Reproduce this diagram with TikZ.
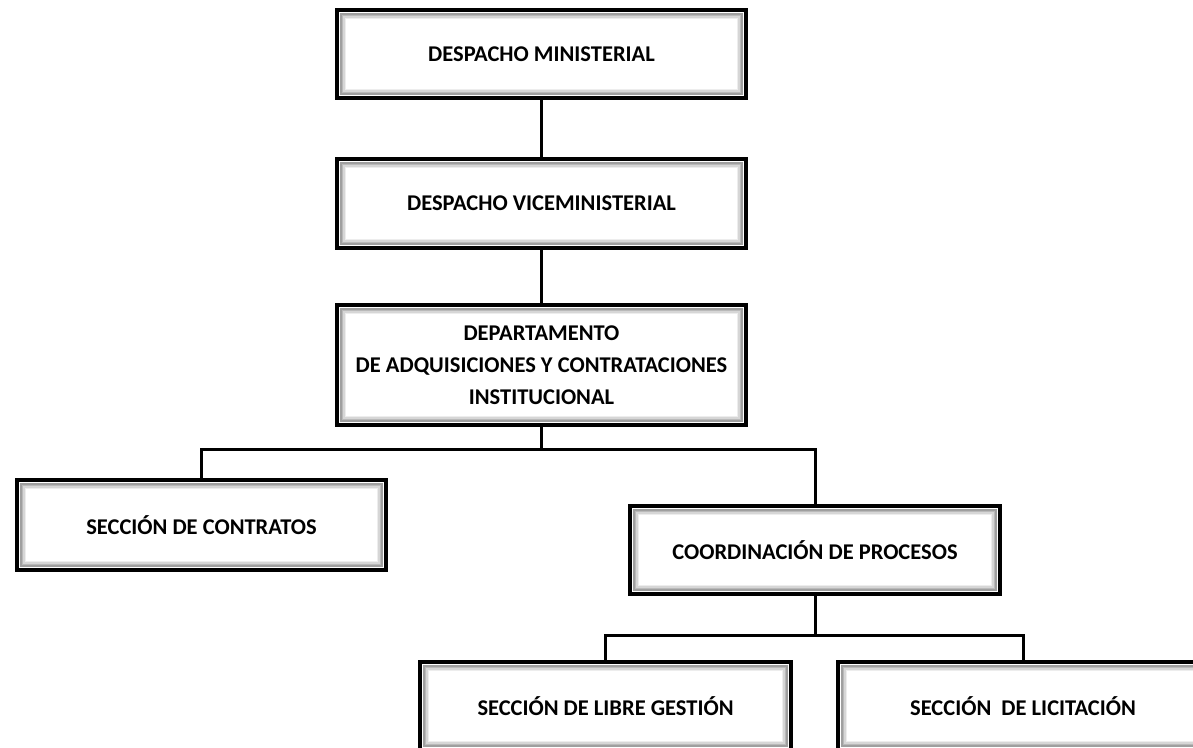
\documentclass[tikz,border=0pt]{standalone}
\usepackage{fontspec}
\setmainfont{Carlito}
\begin{document}
\begin{tikzpicture}[x=1pt,y=-1pt,
  orgbox/.style={draw=black, line width=4.4pt, fill=white, inner sep=0pt,
    font=\bfseries\fontsize{22.5}{32}\selectfont, align=center,
    path picture={
      \draw[gray!75, line width=1.6pt] ([shift={(3.9pt,3.9pt)}]path picture bounding box.south west) rectangle ([shift={(-3.9pt,-3.9pt)}]path picture bounding box.north east);
      \draw[gray!55, line width=1.6pt] ([shift={(5.4pt,5.4pt)}]path picture bounding box.south west) rectangle ([shift={(-5.4pt,-5.4pt)}]path picture bounding box.north east);
      \draw[gray!32, line width=1.6pt] ([shift={(6.9pt,6.9pt)}]path picture bounding box.south west) rectangle ([shift={(-6.9pt,-6.9pt)}]path picture bounding box.north east);
      \draw[gray!14, line width=1.4pt] ([shift={(8.3pt,8.3pt)}]path picture bounding box.south west) rectangle ([shift={(-8.3pt,-8.3pt)}]path picture bounding box.north east);
    }},
  conn/.style={draw=black, line width=3pt}]
\useasboundingbox (0,0) rectangle (1193,747);
\clip (0,0) rectangle (1193,747);

\coordinate (j1) at (541.5,449);
\coordinate (j2) at (815,635);

\node[orgbox, minimum width=408.5pt, minimum height=87.5pt] (b1) at (541.5,54) {DESPACHO MINISTERIAL};
\node[orgbox, minimum width=408.5pt, minimum height=88.5pt] (b2) at (541.5,203.5) {DESPACHO VICEMINISTERIAL};
\node[orgbox, minimum width=408.5pt, minimum height=119.5pt] (b3) at (541.5,365) {DEPARTAMENTO\\DE ADQUISICIONES Y CONTRATACIONES\\INSTITUCIONAL};
\node[orgbox, minimum width=368.5pt, minimum height=89.5pt] (b4) at (201.5,525) {SECCIÓN DE CONTRATOS};
\node[orgbox, minimum width=369.5pt, minimum height=87.5pt] (b5) at (815,550) {COORDINACIÓN DE PROCESOS};
\node[orgbox, minimum width=370.5pt, minimum height=87.5pt] (b6) at (605.5,706) {SECCIÓN DE LIBRE GESTIÓN};
\node[orgbox, minimum width=369.5pt, minimum height=87.5pt] (b7) at (1023,706) {SECCIÓN\ \ DE LICITACIÓN};

\draw[conn] (b1.south) -- (b2.north);
\draw[conn] (b2.south) -- (b3.north);
\draw[conn] (b3.south) -- (j1);
\draw[conn] (b4.north) |- (j1) -| (b5.north);
\draw[conn] (b5.south) -- (j2);
\draw[conn] (b6.north) |- (j2) -| (b7.north);
\end{tikzpicture}
\end{document}
